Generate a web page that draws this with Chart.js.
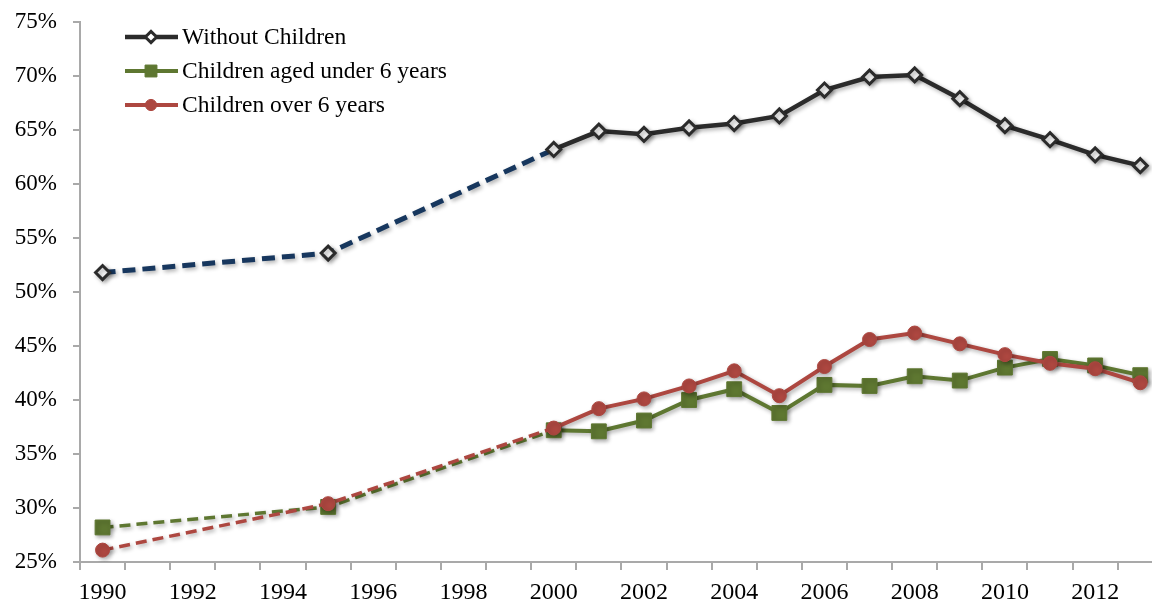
<!DOCTYPE html>
<html>
<head>
<meta charset="utf-8">
<script src="https://cdn.jsdelivr.net/npm/chart.js@4.4.1/dist/chart.umd.min.js"></script>
<style>
  html, body { margin: 0; padding: 0; background: #ffffff; overflow: hidden; }
  #c { display: block; }
</style>
</head>
<body>
<canvas id="c" width="1152" height="603"></canvas>
<script>
// Survey years (annual from 2000 onwards)
const years = [1990, 1995, 2000, 2001, 2002, 2003, 2004, 2005, 2006, 2007, 2008, 2009, 2010, 2011, 2012, 2013];

// Shares in percent
const withoutChildren = [51.8, 53.6, 63.2, 64.9, 64.6, 65.2, 65.6, 66.3, 68.7, 69.9, 70.1, 67.9, 65.4, 64.1, 62.7, 61.7];
const childrenUnder6  = [28.2, 30.1, 37.2, 37.1, 38.1, 40.0, 41.0, 38.8, 41.4, 41.3, 42.2, 41.8, 43.0, 43.8, 43.2, 42.3];
const childrenOver6   = [26.1, 30.4, 37.4, 39.2, 40.1, 41.3, 42.7, 40.4, 43.1, 45.6, 46.2, 45.2, 44.2, 43.4, 42.9, 41.6];

// Axis ticks
const yTicks = [25, 30, 35, 40, 45, 50, 55, 60, 65, 70, 75];
const xTickPositions = [1990, 1991, 1992, 1993, 1994, 1995, 1996, 1997, 1998, 1999, 2000, 2001,
                        2002, 2003, 2004, 2005, 2006, 2007, 2008, 2009, 2010, 2011, 2012, 2013];
const xTickLabels = [1990, 1992, 1994, 1996, 1998, 2000, 2002, 2004, 2006, 2008, 2010, 2012];

const FONT = '"Liberation Serif", "Times New Roman", serif';
const AXIS_GREY = '#a9a9a9';

function points(values) {
  return years.map((yr, i) => ({ x: yr, y: values[i] }));
}

// The early, sparse years are joined with dashed segments
function earlySegment(dashColor, dash, width) {
  const early = ctx => ctx.p1.parsed.x <= 2000;
  return {
    borderColor: ctx => early(ctx) ? dashColor : undefined,
    borderDash: ctx => early(ctx) ? dash : undefined,
    borderWidth: ctx => early(ctx) ? width : undefined
  };
}

// Legend drawn inside the plot, upper left
const insideLegend = {
  id: 'insideLegend',
  afterDraw(chart) {
    const ctx = chart.ctx;
    chart.data.datasets.forEach((ds, i) => {
      const y = 37 + i * 34;
      ctx.save();
      ctx.strokeStyle = ds.borderColor;
      ctx.lineWidth = ds.borderWidth;
      ctx.beginPath();
      ctx.moveTo(125, y);
      ctx.lineTo(178, y);
      ctx.stroke();
      ctx.fillStyle = ds.pointBackgroundColor;
      ctx.strokeStyle = ds.pointBorderColor;
      ctx.lineWidth = ds.pointBorderWidth;
      Chart.helpers.drawPoint(ctx, {
        pointStyle: ds.pointStyle,
        radius: ds.pointRadius * 0.8,
        borderWidth: ds.pointBorderWidth,
        rotation: 0
      }, 151, y);
      ctx.fillStyle = '#000000';
      ctx.font = '23.5px ' + FONT;
      ctx.textBaseline = 'middle';
      ctx.textAlign = 'left';
      ctx.fillText(ds.label, 182, y + 1);
      ctx.restore();
    });
  }
};

// Soft drop shadow under the series
const seriesShadow = {
  id: 'seriesShadow',
  beforeDatasetsDraw(chart) {
    const c = chart.ctx;
    c.save();
    c.shadowColor = 'rgba(0,0,0,0.32)';
    c.shadowBlur = 4;
    c.shadowOffsetX = 2;
    c.shadowOffsetY = 2;
  },
  afterDatasetsDraw(chart) {
    chart.ctx.restore();
  }
};

Chart.defaults.font.family = FONT;
Chart.defaults.color = '#000000';

new Chart(document.getElementById('c'), {
  type: 'line',
  data: {
    datasets: [
      {
        label: 'Without Children',
        data: points(withoutChildren),
        borderColor: '#2b2b2b',
        borderWidth: 4.5,
        pointStyle: 'rectRot',
        pointRadius: 7,
        pointBorderWidth: 3,
        pointBackgroundColor: '#ffffff',
        pointBorderColor: '#2b2b2b',
        segment: earlySegment('#17375e', [13, 7], 5),
        order: 2
      },
      {
        label: 'Children aged under 6 years',
        data: points(childrenUnder6),
        borderColor: '#5e7731',
        borderWidth: 4,
        pointStyle: 'rect',
        pointRadius: 10.5,
        pointBorderWidth: 1,
        pointBackgroundColor: '#5e7731',
        pointBorderColor: '#5e7731',
        segment: earlySegment('#5e7731', [11, 6], 3.5),
        order: 1
      },
      {
        label: 'Children over 6 years',
        data: points(childrenOver6),
        borderColor: '#ad4740',
        borderWidth: 4,
        pointStyle: 'circle',
        pointRadius: 7,
        pointBorderWidth: 1,
        pointBackgroundColor: '#ad4740',
        pointBorderColor: '#ad4740',
        segment: earlySegment('#ad4740', [11, 6], 3.5),
        order: 0
      }
    ]
  },
  options: {
    responsive: false,
    animation: false,
    events: [],
    layout: {
      autoPadding: false,
      padding: { top: 22, right: 0, left: 0, bottom: 0 }
    },
    plugins: {
      legend: { display: false },
      tooltip: { enabled: false },
      title: { display: false }
    },
    scales: {
      x: {
        type: 'linear',
        min: 1989.5,
        max: 2013.26,
        afterBuildTicks(scale) {
          scale.ticks = xTickPositions.map(v => ({ value: v }));
        },
        afterFit(scale) {
          scale.height = 41;
          scale.paddingLeft = 0;
          scale.paddingRight = 0;
        },
        ticks: {
          autoSkip: false,
          maxRotation: 0,
          padding: 8,
          font: { size: 24, family: FONT },
          color: '#000000',
          callback: v => xTickLabels.includes(v) ? String(v) : ''
        },
        grid: {
          offset: true,
          drawOnChartArea: false,
          tickLength: 8,
          color: AXIS_GREY,
          lineWidth: 2
        },
        border: { color: AXIS_GREY, width: 2 }
      },
      y: {
        min: 25,
        max: 75,
        afterBuildTicks(scale) {
          scale.ticks = yTicks.map(v => ({ value: v }));
        },
        afterFit(scale) {
          scale.width = 80;
          scale.paddingTop = 0;
          scale.paddingBottom = 0;
        },
        ticks: {
          padding: 16,
          font: { size: 23, family: FONT },
          color: '#000000',
          callback: v => v + '%'
        },
        grid: {
          drawOnChartArea: false,
          tickLength: 7,
          color: AXIS_GREY,
          lineWidth: 2
        },
        border: { color: AXIS_GREY, width: 2 }
      }
    }
  },
  plugins: [seriesShadow, insideLegend]
});
</script>
</body>
</html>
